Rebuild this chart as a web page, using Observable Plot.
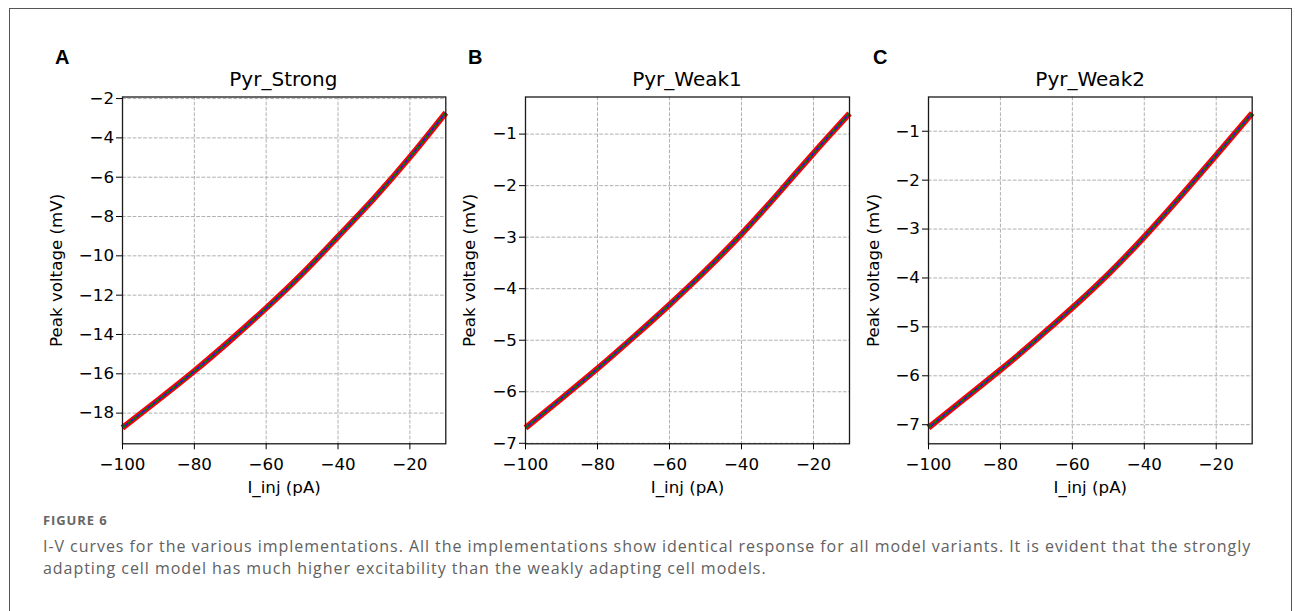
<!DOCTYPE html>
<html>
<head>
<meta charset="utf-8">
<script src="https://cdn.jsdelivr.net/npm/d3@7"></script>
<script src="https://cdn.jsdelivr.net/npm/@observablehq/plot@0.6"></script>
<style>
  html, body { margin: 0; padding: 0; background: #fff; }
  #fig { position: relative; width: 1295px; height: 611px; overflow: hidden; background: #fff; }
  #border { position: absolute; left: 9px; top: 8px; width: 1283px; height: 700px;
            border: 1.5px solid #555; border-bottom: none; box-sizing: border-box; }
  .panel { position: absolute; }
  .letter { position: absolute; font-family: "Liberation Sans", Arial, sans-serif; font-weight: bold;
            font-size: 20px; line-height: 20px; color: #000; }
  .ptitle { position: absolute; font-family: "DejaVu Sans", sans-serif; font-size: 20px; line-height: 20px;
            color: #000; text-align: center; white-space: nowrap; }
  #capHead { position: absolute; left: 43px; top: 512px; font-family: "Open Sans", sans-serif; font-weight: 700;
             font-size: 13px; line-height: 16px; color: #666; letter-spacing: 0.9px; }
  #capText { position: absolute; left: 43px; top: 535px; font-family: "Open Sans", sans-serif;
             font-size: 16px; line-height: 22px; color: #616161; white-space: nowrap; letter-spacing: 0.95px; }
</style>
</head>
<body>
<div id="fig">
  <div id="border"></div>
</div>
<script>
// ---- data ----
const currents = [-100, -90, -80, -70, -60, -50, -40, -30, -20, -10];          // I_inj (pA)
const pyrStrong = [-18.75, -17.32, -15.86, -14.30, -12.66, -10.92, -9.02, -7.08, -4.98, -2.72];
const pyrWeak1  = [-6.70, -6.13, -5.55, -4.94, -4.31, -3.65, -2.94, -2.17, -1.37, -0.60];
const pyrWeak2  = [-7.06, -6.47, -5.88, -5.26, -4.61, -3.92, -3.16, -2.34, -1.49, -0.63];

const panelLetters = ["A", "B", "C"];
const panelTitles = ["Pyr_Strong", "Pyr_Weak1", "Pyr_Weak2"];
const xTicks = [-100, -80, -60, -40, -20];
const yTicksStrong = [-18, -16, -14, -12, -10, -8, -6, -4, -2];
const yTicksWeak = [-7, -6, -5, -4, -3, -2, -1];
const xLabel = "I_inj (pA)";
const yLabel = "Peak voltage (mV)";
const captionHead = "FIGURE 6";
const captionLines = [
  "I-V curves for the various implementations. All the implementations show identical response for all model variants. It is evident that the strongly",
  "adapting cell model has much higher excitability than the weakly adapting cell models."
];

// three implementations drawn on top of one another
const implementations = [
  {name: "impl1", stroke: "#ff0000", width: 6, dash: null},
  {name: "impl2", stroke: "#2020d0", width: 2.2, dash: null},
  {name: "impl3", stroke: "#008000", width: 2, dash: "4,3"}
];

// ---- layout ----
const panels = [
  {values: pyrStrong, yTicks: yTicksStrong, yDomain: [-19.56, -1.92], fl: 121.7, fr: 445, labelOffset: 72},
  {values: pyrWeak1,  yTicks: yTicksWeak,   yDomain: [-7.01, -0.28],  fl: 525,   fr: 849, labelOffset: 62},
  {values: pyrWeak2,  yTicks: yTicksWeak,   yDomain: [-7.39, -0.30],  fl: 928.3, fr: 1252, labelOffset: 61}
];
const letterX = [55, 468, 873];
const frameTop = 96.5, frameBottom = 443.3;
const svgTop = 60;

const fmt = d => String(d).replace("-", "\u2212");
const fig = document.getElementById("fig");

panels.forEach((p, i) => {
  const rows = currents.map((x, k) => ({x, y: p.values[k]}));
  const mL = 100, mR = 20;
  const width = (p.fr - p.fl) + mL + mR;
  const mT = frameTop - svgTop, mB = 70;
  const height = (frameBottom - svgTop) + mB;
  const chart = Plot.plot({
    width, height,
    marginLeft: mL, marginRight: mR, marginTop: mT, marginBottom: mB,
    style: {fontFamily: "DejaVu Sans, sans-serif", fontSize: "16.7px", color: "#000", background: "transparent", overflow: "visible"},
    x: {domain: [-100, -10]},
    y: {domain: p.yDomain},
    marks: [
      Plot.gridX(xTicks, {stroke: "#b0b0b0", strokeOpacity: 1, strokeWidth: 1, strokeDasharray: "3.7,1.6"}),
      Plot.gridY(p.yTicks, {stroke: "#b0b0b0", strokeOpacity: 1, strokeWidth: 1, strokeDasharray: "3.7,1.6"}),
      ...implementations.map(s => Plot.line(rows, {
        x: "x", y: "y", curve: "natural",
        stroke: s.stroke, strokeWidth: s.width,
        strokeDasharray: s.dash ?? undefined,
        strokeLinecap: "butt"
      })),
      Plot.frame({stroke: "#1a1a1a", strokeWidth: 1.3}),
      Plot.axisX(xTicks, {tickFormat: fmt, tickSize: 6, tickPadding: 8, fontSize: 16.7,
        label: xLabel, labelAnchor: "center", labelArrow: "none", labelOffset: 49}),
      Plot.axisY(p.yTicks, {tickFormat: fmt, tickSize: 6, tickPadding: 2.5, fontSize: 16.7,
        label: yLabel, labelAnchor: "center", labelArrow: "none", labelOffset: p.labelOffset})
    ]
  });
  chart.classList.add("panel");
  chart.style.left = (p.fl - mL) + "px";
  chart.style.top = svgTop + "px";
  fig.appendChild(chart);

  const t = document.createElement("div");
  t.className = "ptitle";
  t.textContent = panelTitles[i];
  t.style.left = p.fl + "px";
  t.style.width = (p.fr - p.fl) + "px";
  t.style.top = "69px";
  fig.appendChild(t);

  const L = document.createElement("div");
  L.className = "letter";
  L.textContent = panelLetters[i];
  L.style.left = letterX[i] + "px";
  L.style.top = "47px";
  fig.appendChild(L);
});

const ch = document.createElement("div");
ch.id = "capHead";
ch.textContent = captionHead;
fig.appendChild(ch);
const ct = document.createElement("div");
ct.id = "capText";
captionLines.forEach((line, k) => {
  if (k) ct.appendChild(document.createElement("br"));
  ct.appendChild(document.createTextNode(line));
});
fig.appendChild(ct);
</script>
</body>
</html>
